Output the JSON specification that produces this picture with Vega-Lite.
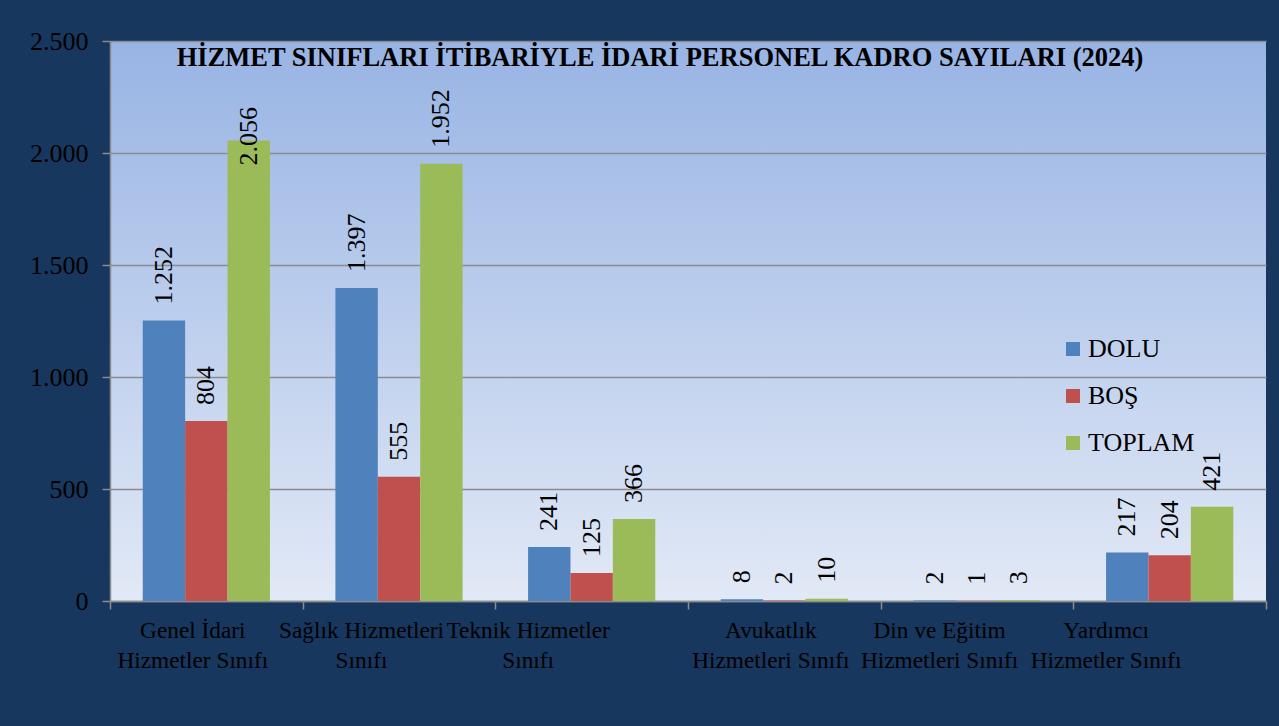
{
  "$schema": "https://vega.github.io/schema/vega-lite/v6.json",
  "width": 1156,
  "height": 560,
  "autosize": {"type": "none"},
  "padding": {"left": 110, "top": 41, "right": 13, "bottom": 125},
  "background": "#17375E",
  "title": {
    "text": "HİZMET SINIFLARI İTİBARİYLE İDARİ PERSONEL KADRO SAYILARI (2024)",
    "font": "Liberation Serif",
    "fontWeight": "bold",
    "fontSize": 26.5,
    "color": "black",
    "anchor": "middle",
    "frame": "group",
    "dx": -28,
    "offset": -64,
    "baseline": "alphabetic"
  },
  "data": {
    "values": [
      {"sinif": "Genel İdari|Hizmetler Sınıfı", "tur": "DOLU", "deger": 1252},
      {"sinif": "Genel İdari|Hizmetler Sınıfı", "tur": "BOŞ", "deger": 804},
      {"sinif": "Genel İdari|Hizmetler Sınıfı", "tur": "TOPLAM", "deger": 2056},
      {"sinif": "Sağlık Hizmetleri|Sınıfı", "tur": "DOLU", "deger": 1397},
      {"sinif": "Sağlık Hizmetleri|Sınıfı", "tur": "BOŞ", "deger": 555},
      {"sinif": "Sağlık Hizmetleri|Sınıfı", "tur": "TOPLAM", "deger": 1952},
      {"sinif": "Teknik Hizmetler|Sınıfı", "tur": "DOLU", "deger": 241},
      {"sinif": "Teknik Hizmetler|Sınıfı", "tur": "BOŞ", "deger": 125},
      {"sinif": "Teknik Hizmetler|Sınıfı", "tur": "TOPLAM", "deger": 366},
      {"sinif": "Avukatlık|Hizmetleri Sınıfı", "tur": "DOLU", "deger": 8},
      {"sinif": "Avukatlık|Hizmetleri Sınıfı", "tur": "BOŞ", "deger": 2},
      {"sinif": "Avukatlık|Hizmetleri Sınıfı", "tur": "TOPLAM", "deger": 10},
      {"sinif": "Din ve Eğitim|Hizmetleri Sınıfı", "tur": "DOLU", "deger": 2},
      {"sinif": "Din ve Eğitim|Hizmetleri Sınıfı", "tur": "BOŞ", "deger": 1},
      {"sinif": "Din ve Eğitim|Hizmetleri Sınıfı", "tur": "TOPLAM", "deger": 3},
      {"sinif": "Yardımcı|Hizmetler Sınıfı", "tur": "DOLU", "deger": 217},
      {"sinif": "Yardımcı|Hizmetler Sınıfı", "tur": "BOŞ", "deger": 204},
      {"sinif": "Yardımcı|Hizmetler Sınıfı", "tur": "TOPLAM", "deger": 421}
    ]
  },
  "encoding": {
    "x": {
      "field": "sinif",
      "type": "nominal",
      "sort": null,
      "scale": {"paddingInner": 0, "paddingOuter": 0},
      "axis": {
        "title": null,
        "labelAngle": 0,
        "labelExpr": "split(datum.label, '|')",
        "labelFont": "Liberation Serif",
        "labelFontSize": 23.3,
        "labelLineHeight": 30,
        "labelColor": "black",
        "labelPadding": 10,
        "labelLimit": 0,
        "labelOverlap": false,
        "labelBound": false,
        "tickBand": "extent",
        "tickSize": 8,
        "tickColor": "#8C8C8C",
        "tickWidth": 1.5,
        "domainColor": "#8C8C8C",
        "domainWidth": 1.5,
        "labelOffset": {
          "condition": [
            {"test": "datum.value == 'Sağlık Hizmetleri|Sınıfı' || datum.value == 'Din ve Eğitim|Hizmetleri Sınıfı'", "value": -38},
            {"test": "datum.value == 'Teknik Hizmetler|Sınıfı' || datum.value == 'Yardımcı|Hizmetler Sınıfı'", "value": -64}
          ],
          "value": -14
        }
      }
    },
    "xOffset": {
      "field": "tur",
      "type": "nominal",
      "sort": ["DOLU", "BOŞ", "TOPLAM"],
      "scale": {"paddingInner": 0, "paddingOuter": 0.772}
    },
    "y": {
      "field": "deger",
      "type": "quantitative",
      "scale": {"domain": [0, 2500], "nice": false},
      "axis": {
        "title": null,
        "values": [0, 500, 1000, 1500, 2000, 2500],
        "format": ",d",
        "labelFont": "Liberation Serif",
        "labelFontSize": 26,
        "labelColor": "black",
        "labelPadding": 14,
        "tickSize": 8,
        "tickColor": "#8C8C8C",
        "tickWidth": 1.5,
        "gridColor": "#8C8C8C",
        "gridWidth": 1.5,
        "domainColor": "#8C8C8C",
        "domainWidth": 1.5
      }
    }
  },
  "layer": [
    {
      "mark": {"type": "bar"},
      "encoding": {
        "color": {
          "field": "tur",
          "type": "nominal",
          "sort": ["DOLU", "BOŞ", "TOPLAM"],
          "scale": {"domain": ["DOLU", "BOŞ", "TOPLAM"], "range": ["#4F81BD", "#C0504D", "#9BBB59"]},
          "legend": {
            "title": null,
            "orient": "none",
            "legendX": 950,
            "legendY": 295,
            "direction": "vertical",
            "symbolType": "square",
            "symbolSize": 196,
            "symbolStrokeWidth": 0,
            "symbolOpacity": 1,
            "labelFont": "Liberation Serif",
            "labelFontSize": 26,
            "labelColor": "black",
            "labelOffset": 2,
            "rowPadding": 21,
            "padding": 0
          }
        }
      }
    },
    {
      "mark": {
        "type": "text",
        "angle": 270,
        "align": "left",
        "baseline": "middle",
        "dx": {"expr": "datum.deger > 2000 ? -25 : 16"},
        "font": "Liberation Serif",
        "fontSize": 26,
        "color": "black"
      },
      "encoding": {
        "text": {"field": "deger", "type": "quantitative", "format": ",d"}
      }
    }
  ],
  "config": {
    "locale": {
      "number": {"decimal": ",", "thousands": ".", "grouping": [3], "currency": ["", " ₺"]}
    },
    "view": {
      "stroke": null,
      "fill": {
        "gradient": "linear",
        "x1": 0, "y1": 0, "x2": 0, "y2": 1,
        "stops": [
          {"offset": 0, "color": "#98B4E4"},
          {"offset": 1, "color": "#E2E9F6"}
        ]
      }
    }
  }
}
